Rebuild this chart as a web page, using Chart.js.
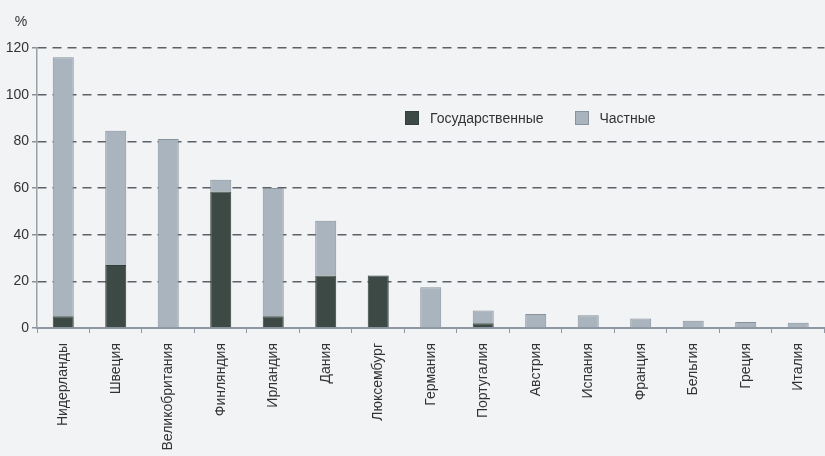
<!DOCTYPE html>
<html>
<head>
<meta charset="utf-8">
<script src="https://cdn.jsdelivr.net/npm/chart.js@4.4.1/dist/chart.umd.min.js"></script>
<style>
    html, body { margin: 0; padding: 0; background: #f1f3f5; }
    #wrap { position: relative; width: 825px; height: 456px; }
    #legend { position: absolute; left: 405px; top: 110px; display: flex; font: 14px 'Liberation Sans', Arial, sans-serif; color: #333; }
    #legend .item { display: flex; align-items: center; margin-right: 31px; }
    #legend .box { width: 14px; height: 14px; margin-right: 11px; box-sizing: border-box; border: 1px solid; }
</style>
</head>
<body>
<div id="wrap">
    <canvas id="chart" width="825" height="456"></canvas>
    <div id="legend"></div>
</div>
<script>
// Data
const countries = ['Нидерланды', 'Швеция', 'Великобритания', 'Финляндия', 'Ирландия', 'Дания', 'Люксембург',
    'Германия', 'Португалия', 'Австрия', 'Испания', 'Франция', 'Бельгия', 'Греция', 'Италия'];
const stateShare = [5, 27, 0, 58.5, 5, 22.5, 22.5, 0, 2, 0, 0, 0, 0, 0, 0];
const privateShare = [111, 57.5, 81, 5, 55, 23.5, 0, 17.5, 5.5, 6, 5.5, 4.1, 3.1, 2.6, 2.3];
const yTicks = [0, 20, 40, 60, 80, 100, 120];

const darkColor = '#3d4944';
const lightColor = '#a9b4bf';
const fontFamily = "'Liberation Sans', Arial, sans-serif";

// draws the "%" unit above the y axis
const unitLabel = {
    id: 'unitLabel',
    afterDraw(chart) {
        const ctx = chart.ctx;
        ctx.save();
        ctx.font = '14px ' + fontFamily;
        ctx.fillStyle = '#333';
        ctx.textAlign = 'center';
        ctx.textBaseline = 'middle';
        ctx.fillText('%', 21, 22);
        ctx.restore();
    }
};

const chart = new Chart(document.getElementById('chart').getContext('2d'), {
    type: 'bar',
    data: {
        labels: countries,
        datasets: [{
            label: 'Государственные',
            data: stateShare,
            backgroundColor: darkColor,
            borderColor: '#33403a',
            borderWidth: 1,
            barPercentage: 0.4,
            categoryPercentage: 1
        }, {
            label: 'Частные',
            data: privateShare,
            backgroundColor: lightColor,
            borderColor: '#87929c',
            borderWidth: 1,
            barPercentage: 0.4,
            categoryPercentage: 1
        }]
    },
    options: {
        responsive: false,
        animation: false,
        layout: {
            padding: { top: 48, right: -3, bottom: 0, left: 0 }
        },
        plugins: {
            legend: { display: false },
            tooltip: { enabled: false }
        },
        scales: {
            x: {
                stacked: true,
                afterFit: (scale) => { scale.height = 128; },
                border: { display: true, color: '#8e97a3', width: 2 },
                grid: {
                    drawOnChartArea: false,
                    drawTicks: true,
                    tickLength: 5,
                    color: '#8e97a3'
                },
                ticks: {
                    minRotation: 90,
                    maxRotation: 90,
                    autoSkip: false,
                    padding: 10,
                    color: '#333',
                    font: { size: 14, family: fontFamily }
                }
            },
            y: {
                stacked: true,
                min: 0,
                max: 120,
                afterFit: (scale) => { scale.width = 37; },
                afterBuildTicks: (scale) => { scale.ticks = yTicks.map(v => ({ value: v })); },
                border: { display: true, color: '#9aa0a8', width: 1.5, dash: [9, 6] },
                grid: {
                    color: (c) => c.tick && c.tick.value === 0 ? 'rgba(0,0,0,0)' : '#5c6166',
                    lineWidth: 1.5,
                    drawTicks: true,
                    tickLength: 5,
                    tickColor: '#8a9098',
                    tickBorderDash: []
                },
                ticks: {
                    padding: 3,
                    color: '#333',
                    font: { size: 14, family: fontFamily }
                }
            }
        }
    },
    plugins: [unitLabel]
});

// HTML legend built from the datasets
const legendEl = document.getElementById('legend');
chart.data.datasets.forEach((ds) => {
    const item = document.createElement('div');
    item.className = 'item';
    const box = document.createElement('span');
    box.className = 'box';
    box.style.backgroundColor = ds.backgroundColor;
    box.style.borderColor = ds.borderColor;
    const text = document.createElement('span');
    text.textContent = ds.label;
    item.appendChild(box);
    item.appendChild(text);
    legendEl.appendChild(item);
});
</script>
</body>
</html>
